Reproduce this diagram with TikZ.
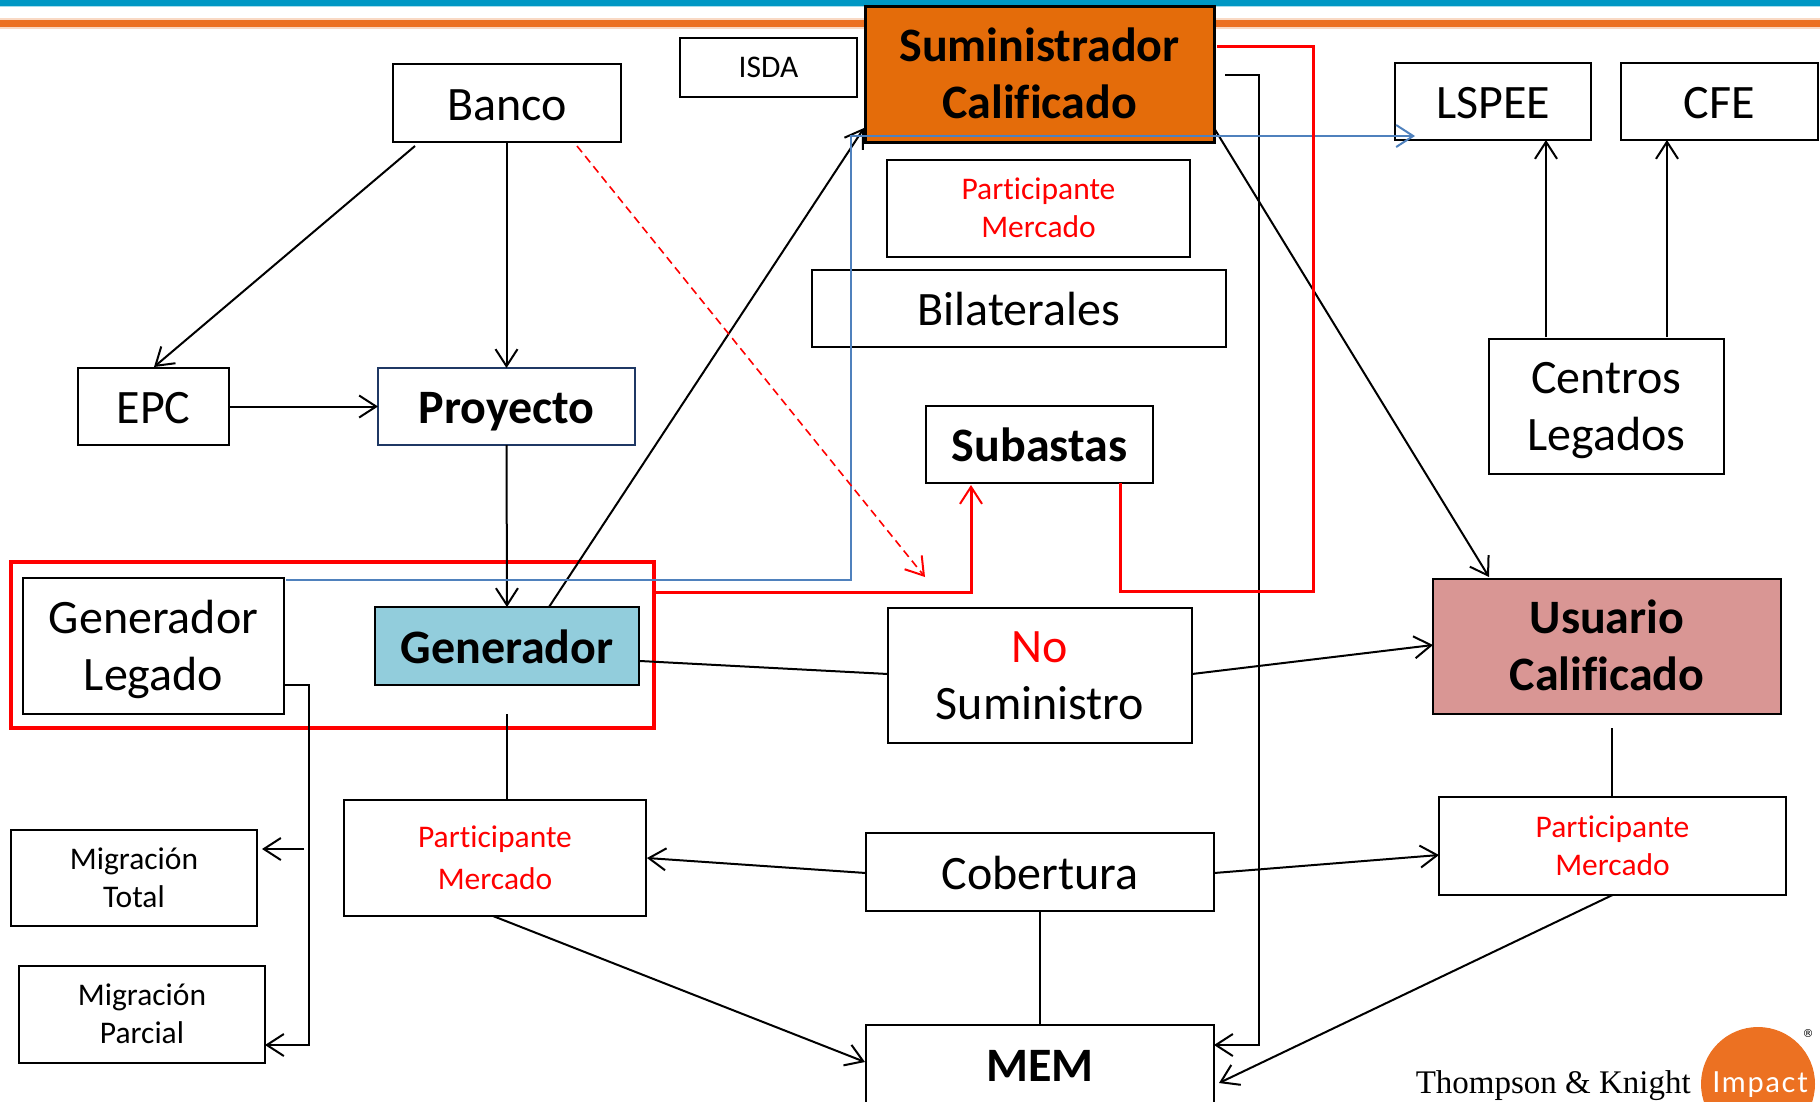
\documentclass[tikz,border=0pt]{standalone}
\usepackage{fontspec}
\setmainfont[Ligatures=NoCommon]{Carlito}
\newfontfamily\tkserif{Liberation Serif}
\newfontfamily\impactsans[LetterSpace=6]{Lato}
\newfontfamily\regfont{DejaVu Sans}
\usetikzlibrary{arrows.meta,calc}
\definecolor{bandblue}{HTML}{0097C4}
\definecolor{bandlight}{HTML}{A6DCEC}
\definecolor{bandorange}{HTML}{EC7122}
\definecolor{bandorangel}{HTML}{F9D9C4}
\definecolor{sumorange}{HTML}{E46C0A}
\definecolor{genblue}{HTML}{92CDDC}
\definecolor{usrpink}{HTML}{D99694}
\definecolor{linkblue}{HTML}{4F81BD}
\definecolor{proyborder}{HTML}{1F3864}
\definecolor{pure}{HTML}{FF0000}
\newcommand{\bxnode}[7][]{%
  \pgfmathsetmacro{\bxw}{#5-#3}%
  \pgfmathsetmacro{\bxh}{#6-#4}%
  \pgfmathsetmacro{\bxcx}{(#3+#5)/2}%
  \pgfmathsetmacro{\bxcy}{(#4+#6)/2}%
  \node[boxbase,minimum width=\bxw pt,minimum height=\bxh pt,#1] (#2) at (\bxcx,\bxcy) {#7};}
\newcommand{\bigone}[1]{\rule{0pt}{46pt}#1\rule[-12pt]{0pt}{12pt}}
\newcommand{\bigtwo}[2]{\rule{0pt}{45pt}#1\\#2\rule[-14pt]{0pt}{14pt}}
\newcommand{\smallone}[1]{\rule{0pt}{30pt}#1\rule[-10pt]{0pt}{10pt}}
\newcommand{\smalltwo}[2]{\rule{0pt}{30pt}#1\\#2\rule[-10pt]{0pt}{10pt}}
\tikzset{
  boxbase/.style={draw=black,line width=2pt,fill=white,inner sep=0pt,outer sep=0pt,align=center,text=black},
  biglabel/.style={font=\fontsize{48}{57}\selectfont},
  boldlabel/.style={font=\fontsize{48}{57}\selectfont\bfseries},
  smalllabel/.style={font=\fontsize{31.5}{38}\selectfont},
  redlabel/.style={text=pure},
  conn/.style={draw=black,line width=2pt},
  arr/.style={conn,-{Straight Barb[length=17pt,width=22pt,line width=2pt]}},
  redarr/.style={draw=pure,line width=3pt,-{Straight Barb[length=17pt,width=22pt,line width=2pt]}},
  bluearr/.style={draw=linkblue,line width=2.4pt,-{Straight Barb[length=17pt,width=22pt,line width=2pt]}},
}
\begin{document}
\begin{tikzpicture}[x=1pt,y=-1pt]
\useasboundingbox (0,0) rectangle (1820,1101);
% header bands
\fill[bandlight] (0,0) rectangle (1820,7);
\fill[bandblue] (0,0) rectangle (1820,5.5);
\fill[bandorangel] (0,18) rectangle (1820,29);
\fill[bandorange] (0,20) rectangle (1820,27);
% red frame
\node[draw=pure,line width=4pt,inner sep=0pt,outer sep=0pt,minimum width=643pt,minimum height=166pt] (frame) at (332.5,644.5) {};
% boxes
\bxnode[biglabel]{banco}{393}{64}{621}{142}{\bigone{Banco}}
\bxnode[smalllabel]{isda}{680}{38}{857}{97}{\smallone{ISDA}}
\bxnode[boldlabel,fill=sumorange,line width=3pt]{sumin}{865}{6}{1214}{142}{\bigtwo{Suministrador}{Calificado}}
\bxnode[smalllabel,redlabel]{parttop}{887}{160}{1190}{257}{\smalltwo{Participante}{Mercado}}
\bxnode[biglabel]{bilat}{812}{270}{1226}{347}{\bigone{Bilaterales}}
\bxnode[boldlabel]{subastas}{926}{406}{1153}{483}{\bigone{Subastas}}
\bxnode[biglabel]{lspee}{1395}{63}{1591}{140}{\bigone{LSPEE}}
\bxnode[biglabel]{cfe}{1621}{63}{1818}{140}{\bigone{CFE}}
\bxnode[biglabel]{centros}{1489}{339}{1724}{474}{\bigtwo{Centros}{Legados}}
\bxnode[biglabel]{epc}{78}{368}{229}{445}{\bigone{EPC}}
\bxnode[boldlabel,draw=proyborder]{proyecto}{378}{368}{635}{445}{\bigone{Proyecto}}
\bxnode[biglabel]{legado}{23}{578}{284}{714}{\bigtwo{Generador}{Legado}}
\bxnode[boldlabel,fill=genblue]{generador}{375}{607}{639}{685}{\bigone{Generador}}
\bxnode[biglabel]{nosum}{888}{608}{1192}{743}{\bigtwo{\textcolor{pure}{No}}{Suministro}}
\bxnode[boldlabel,fill=usrpink]{usuario}{1433}{579}{1781}{714}{\bigtwo{Usuario}{Calificado}}
\bxnode[smalllabel,redlabel,font=\fontsize{31.5}{42}\selectfont]{partleft}{344}{800}{646}{916}{\smalltwo{Participante}{Mercado}}
\bxnode[smalllabel,redlabel]{partright}{1439}{797}{1786}{895}{\smalltwo{Participante}{Mercado}}
\bxnode[biglabel]{cobertura}{866}{833}{1214}{911}{\bigone{Cobertura}}
\bxnode[smalllabel]{migtotal}{11}{830}{257}{926}{\smalltwo{Migración}{Total}}
\bxnode[smalllabel]{migparc}{19}{966}{265}{1063}{\smalltwo{Migración}{Parcial}}
\bxnode[boldlabel]{mem}{866}{1025}{1214}{1104}{\bigone{MEM}}
% free ends
\coordinate (bancoL) at ([shift={(22,4)}]banco.south west);
\coordinate (bancoR) at ([shift={(184,4)}]banco.south west);
\coordinate (dashEnd) at (925,577);
\coordinate (frameOut) at (frame.east |- 0,592);
\coordinate (frameJ) at (971,592);
\coordinate (subOut) at (1120,483);
\coordinate (centrosL) at (1546,337);
\coordinate (centrosR) at (1667,337);
% black connectors
\draw[arr] (bancoL) -- ([shift={(76,-1)}]epc.north west);
\draw[arr] (banco.south -| proyecto.north) -- (proyecto.north);
\draw[arr] (epc.east) -- (proyecto.west);
\draw[arr] (proyecto.south) -- (generador.north);
\draw[arr] ([shift={(174,0)}]generador.north west) -- ([shift={(-1,122)}]sumin.north west);
\draw[arr] ([shift={(0,122)}]sumin.north east) -- ([shift={(56,-2)}]usuario.north west);
\draw[conn] ([shift={(1,54)}]generador.north east) -- ([shift={(0,66)}]nosum.north west);
\draw[arr] ([shift={(0,66)}]nosum.north east) -- ([shift={(0,66)}]usuario.north west);
\draw[conn] ([shift={(0,29)}]generador.south) -- (partleft.north -| generador.south);
\draw[arr] ([shift={(0,40)}]cobertura.north west) -- ([shift={(1,58)}]partleft.north east);
\draw[arr] ([shift={(0,40)}]cobertura.north east) -- ([shift={(0,58)}]partright.north west);
\draw[conn] (cobertura.south) -- (mem.north);
\draw[arr] ([shift={(-2,0)}]partleft.south) -- ([shift={(-1,37)}]mem.north west);
\draw[arr] (partright.south) -- ([shift={(5,58)}]mem.north east);
\draw[conn] ([shift={(179,14)}]usuario.south west) -- ([shift={(173,0)}]partright.north west);
\draw[arr] ([shift={(11,69)}]sumin.north east) -- (1259,75) -- (1259,1045) -- ([shift={(0,20)}]mem.north east);
\draw[arr] ([shift={(0,-29)}]legado.south east) -- (309,685) -- (309,1045) -- (migparc.east |- 0,1045);
\draw[arr] (304,849) -- ([shift={(5,0)}]migtotal.east |- 0,849);
\draw[arr] (centrosL) -- (centrosL |- lspee.south);
\draw[arr] (centrosR) -- (centrosR |- cfe.south);
% blue link
\draw[bluearr] ([shift={(2,2)}]legado.north east) -- (851,580) -- (851,136) -- (1415,136);
% red links
\draw[redarr,draw=pure,line width=1.6pt,dash pattern=on 8pt off 5pt] (bancoR) -- (dashEnd);
\draw[redarr] (frameOut) -- (frameJ) -- ([shift={(0,2)}]frameJ |- subastas.south);
\draw[draw=pure,line width=3pt] (subOut) -- (1120,591) -- (1313,591) -- (1313,46) -- ([shift={(3,0)}]sumin.east |- 0,46);
% logo
\fill[bandorange] (1758,1084) circle (57);
\node[font=\fontsize{33}{33}\selectfont\tkserif,anchor=base east,inner sep=0pt] (tklogo) at (1691,1093) {Thompson \& Knight};
\node[font=\fontsize{29}{29}\selectfont\impactsans,text=white,anchor=base,inner sep=0pt] (implogo) at (1760,1092) {Impact};
\node[font=\fontsize{11}{11}\selectfont\regfont,inner sep=0pt] (reglogo) at (1808,1033) {®};
\end{tikzpicture}
\end{document}
